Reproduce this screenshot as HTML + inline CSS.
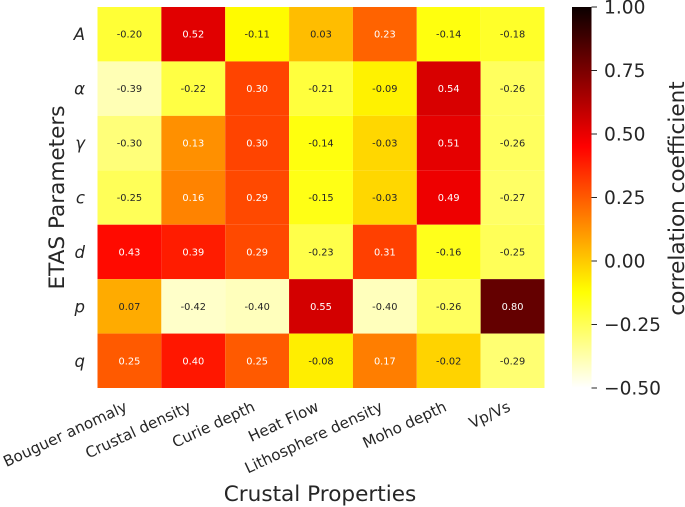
<!DOCTYPE html>
<html>
<head>
<meta charset="utf-8">
<style>
html,body{margin:0;padding:0;background:#fff;width:685px;height:507px;overflow:hidden}
svg{display:block}
text{font-family:"DejaVu Sans","Liberation Sans",sans-serif;fill:#262626}
</style>
</head>
<body>
<svg id="chart" xmlns="http://www.w3.org/2000/svg" width="685" height="507" viewBox="0 0 685 507">
<defs><linearGradient id="cbar-gradient" x1="0" y1="1" x2="0" y2="0"></linearGradient></defs>
<g id="cells"></g>
<g id="annots"></g>
<g id="yticks"></g>
<g id="xticks"></g>
<text x="320" y="501" text-anchor="middle" font-size="21.6">Crustal Properties</text>
<text transform="translate(64,197.5) rotate(-90)" text-anchor="middle" font-size="21.6">ETAS Parameters</text>
<rect id="cbar" x="572" y="7" width="19.5" height="381" fill="url(#cbar-gradient)"></rect>
<g id="cticks"></g>
<text transform="translate(684,198.5) rotate(-90)" text-anchor="middle" font-size="21.5">correlation coefficient</text>
</svg>
<script>
var rowLabels = ["A","α","γ","c","d","p","q"];
var colLabels = ["Bouguer anomaly","Crustal density","Curie depth","Heat Flow","Lithosphere density","Moho depth","Vp/Vs"];
var row0 = [-0.20,0.52,-0.11,0.03,0.23,-0.14,-0.18];
var row1 = [-0.39,-0.22,0.30,-0.21,-0.09,0.54,-0.26];
var row2 = [-0.30,0.13,0.30,-0.14,-0.03,0.51,-0.26];
var row3 = [-0.25,0.16,0.29,-0.15,-0.03,0.49,-0.27];
var row4 = [0.43,0.39,0.29,-0.23,0.31,-0.16,-0.25];
var row5 = [0.07,-0.42,-0.40,0.55,-0.40,-0.26,0.80];
var row6 = [0.25,0.40,0.25,-0.08,0.17,-0.02,-0.29];
var colorbarTicks = [-0.5,-0.25,0,0.25,0.5,0.75,1];
var matrix = [row0,row1,row2,row3,row4,row5,row6];

var NS = "http://www.w3.org/2000/svg";
var plotL = 97.5, plotR = 544.5, plotT = 7, plotB = 388;
var vMin = -0.5, vMax = 1;

function xAxis(i){ return plotL + (plotR - plotL) * i / colLabels.length; }
function yAxis(i){ return plotT + (plotB - plotT) * i / rowLabels.length; }
function cbarAxis(v){ return plotB - (plotB - plotT) * (v - vMin) / (vMax - vMin); }

function hotR(v){
  var t = 1 - Math.min(1, Math.max(0, (v - vMin) / (vMax - vMin)));
  var r = t < 0.365 ? 0.0416 + t / 0.365 * 0.9584 : 1;
  var g = t < 0.365 ? 0 : (t < 0.746 ? (t - 0.365) / 0.381 : 1);
  var b = t < 0.746 ? 0 : (t - 0.746) / 0.254;
  return [r, g, b];
}
function css(c){ return "rgb(" + Math.round(c[0]*255) + "," + Math.round(c[1]*255) + "," + Math.round(c[2]*255) + ")"; }
function lum(c){
  var f = function(x){ return x <= 0.03928 ? x / 12.92 : Math.pow((x + 0.055) / 1.055, 2.4); };
  return 0.2126*f(c[0]) + 0.7152*f(c[1]) + 0.0722*f(c[2]);
}
function make(tag, attrs, parent, txt){
  var el = document.createElementNS(NS, tag);
  for (var k in attrs) el.setAttribute(k, attrs[k]);
  if (txt !== undefined) el.textContent = txt;
  parent.appendChild(el);
  return el;
}

var cellsG = document.getElementById("cells");
var annotG = document.getElementById("annots");
var yG = document.getElementById("yticks");
var xG = document.getElementById("xticks");
var cG = document.getElementById("cticks");

matrix.forEach(function(row, r){
  row.forEach(function(v, c){
    var col = hotR(v);
    var rect = make("rect", {x:xAxis(c), y:yAxis(r), width:xAxis(c+1)-xAxis(c), height:yAxis(r+1)-yAxis(r), fill:css(col)}, cellsG);
    
    
    var t = make("text", {x:(xAxis(c)+xAxis(c+1))/2, y:(yAxis(r)+yAxis(r+1))/2+3.5, "text-anchor":"middle", "font-size":"9.8", style:"fill:"+(lum(col)>0.45?"#262626":"#ffffff")}, annotG, v.toFixed(2));
    
    
  });
});

rowLabels.forEach(function(l, i){
  var t = make("text", {x:85, y:(yAxis(i)+yAxis(i+1))/2+6, "text-anchor":"end", "font-size":"16.5", "font-style":"italic"}, yG, l);
  
  
});

colLabels.forEach(function(l, i){
  var cx = (xAxis(i)+xAxis(i+1))/2 - 4.5;
  var t = make("text", {transform:"translate("+cx+",403) rotate(-25)", x:0, y:8, "text-anchor":"end", "font-size":"15.2"}, xG, l);
  
  
});

var grad = document.getElementById("cbar-gradient");
for (var s = 0; s <= 60; s++){
  var frac = s / 60;
  make("stop", {offset:frac, "stop-color":css(hotR(vMin + frac*(vMax-vMin)))}, grad);
}

colorbarTicks.forEach(function(v){
  var y = cbarAxis(v);
  var m = make("line", {x1:591.5, x2:597, y1:y, y2:y, stroke:"#262626", "stroke-width":"1"}, cG);
  
  
  var s = v.toFixed(2).replace("-", "\u2212");
  var t = make("text", {x:604, y:y+6.5, "font-size":"18.6"}, cG, s);
  
  
});
</script>
</body>
</html>
